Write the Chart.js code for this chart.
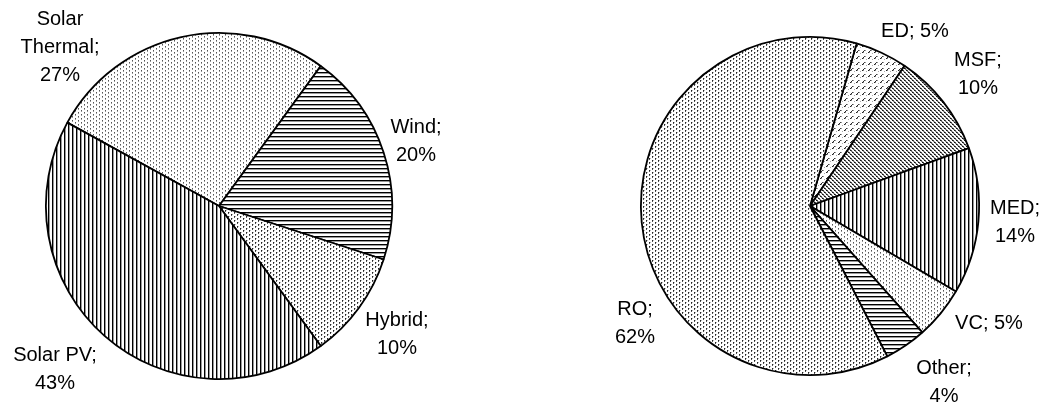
<!DOCTYPE html>
<html>
<head>
<meta charset="utf-8">
<script src="https://cdn.jsdelivr.net/npm/chart.js@4.4.0/dist/chart.umd.min.js"></script>
<style>
    html, body { margin: 0; padding: 0; background: #fff; }
    #wrap { position: relative; width: 1047px; height: 405px; overflow: hidden; }
    canvas { position: absolute; top: 0; }
</style>
</head>
<body>
<div id="wrap">
    <canvas id="chartEnergy" width="520" height="405" style="left:0"></canvas>
    <canvas id="chartTech" width="527" height="405" style="left:520px"></canvas>
</div>
<script>
// Left pie: energy source
const energyLabels = ['Solar Thermal', 'Wind', 'Hybrid', 'Solar PV'];
const energyValues = [27, 20, 10, 43];
const energyWrap = [3, 2, 2, 2];          // 1 = one line, 2 = name / value, 3 = every word
const energyLabelOffset = [[-159, -159], [197, -65], [178, 128], [-164, 163]];

// Right pie: desalination technology
const techLabels = ['ED', 'MSF', 'MED', 'VC', 'Other', 'RO'];
const techValues = [5, 10, 14, 5, 4, 62];
const techWrap = [1, 2, 2, 1, 2, 2];
const techLabelOffset = [[105, -175], [168, -132], [205, 16], [179, 117], [134, 176], [-175, 117]];

// Build small tiles for the hatch fills
function makePattern(w, h, pixels) {
    const tile = document.createElement('canvas');
    tile.width = w;
    tile.height = h;
    const c = tile.getContext('2d');
    c.fillStyle = '#fff';
    c.fillRect(0, 0, w, h);
    pixels.forEach(([x, y, col]) => {
        c.fillStyle = col;
        c.fillRect(x, y, 1, 1);
    });
    return c.createPattern(tile, 'repeat');
}

const pat = {
    light: makePattern(6, 4, [[0, 0, '#555'], [0, 1, '#999'], [3, 2, '#555'], [3, 3, '#999']]),
    medium: makePattern(6, 4, [[0, 0, '#222'], [0, 1, '#555'], [3, 2, '#222'], [3, 3, '#555'], [1, 0, '#bbb'], [4, 2, '#bbb']]),
    dense: makePattern(4, 4, [[0, 0, '#111'], [1, 0, '#444'], [2, 2, '#111'], [3, 2, '#444'],
                              [1, 1, '#777'], [3, 3, '#777'], [0, 3, '#999'], [2, 1, '#999']]),
    diag: makePattern(6, 6, [[0, 4, '#222'], [1, 3, '#222'], [2, 2, '#444'], [1, 4, '#888'], [3, 2, '#999'], [4, 5, '#aaa']]),
    hlines: makePattern(4, 4, [[0, 0, '#000'], [1, 0, '#000'], [2, 0, '#000'], [3, 0, '#000'],
                               [0, 1, '#999'], [1, 1, '#999'], [2, 1, '#999'], [3, 1, '#999']]),
    vlines: makePattern(4, 4, [[0, 0, '#000'], [0, 1, '#000'], [0, 2, '#000'], [0, 3, '#000'],
                               [1, 0, '#999'], [1, 1, '#999'], [1, 2, '#999'], [1, 3, '#999']])
};

const energyFills = [pat.light, pat.hlines, pat.medium, pat.vlines];
const techFills = [pat.diag, pat.dense, pat.vlines, pat.light, pat.hlines, pat.medium];

function wrapLabel(name, value, mode) {
    if (mode === 1) return [`${name}; ${value}%`];
    if (mode === 3) {
        const words = name.split(' ');
        words[words.length - 1] += ';';
        return [...words, `${value}%`];
    }
    return [`${name};`, `${value}%`];
}

// Draws the data labels next to each slice
const sliceLabels = {
    id: 'sliceLabels',
    afterDraw(chart, args, opts) {
        const ctx = chart.ctx;
        const arc = chart.getDatasetMeta(0).data[0];
        const cx = arc.x, cy = arc.y;
        const labels = chart.data.labels;
        const values = chart.data.datasets[0].data;
        ctx.save();
        ctx.fillStyle = '#000';
        ctx.font = '20px "Liberation Sans", Arial, sans-serif';
        ctx.textAlign = 'center';
        ctx.textBaseline = 'middle';
        labels.forEach((name, i) => {
            const lines = wrapLabel(name, values[i], opts.wrap[i]);
            const [dx, dy] = opts.offsets[i];
            const lh = 28;
            const y0 = cy + dy - (lines.length - 1) * lh / 2;
            lines.forEach((t, j) => ctx.fillText(t, cx + dx, y0 + j * lh));
        });
        ctx.restore();
    }
};

function pieConfig(labels, values, fills, rotation, padding, wrap, offsets) {
    return {
        type: 'pie',
        data: {
            labels: labels,
            datasets: [{
                data: values,
                backgroundColor: fills,
                borderColor: '#000',
                borderWidth: 1.8
            }]
        },
        options: {
            responsive: false,
            animation: false,
            rotation: rotation,
            layout: { padding: padding },
            plugins: {
                legend: { display: false },
                tooltip: { enabled: false },
                sliceLabels: { wrap: wrap, offsets: offsets }
            }
        },
        plugins: [sliceLabels]
    };
}

new Chart(document.getElementById('chartEnergy'),
    pieConfig(energyLabels, energyValues, energyFills, -61.2,
        { left: 45, right: 127, top: 32, bottom: 25 }, energyWrap, energyLabelOffset));

new Chart(document.getElementById('chartTech'),
    pieConfig(techLabels, techValues, techFills, 16,
        { left: 120, right: 67, top: 36, bottom: 29 }, techWrap, techLabelOffset));
</script>
</body>
</html>
